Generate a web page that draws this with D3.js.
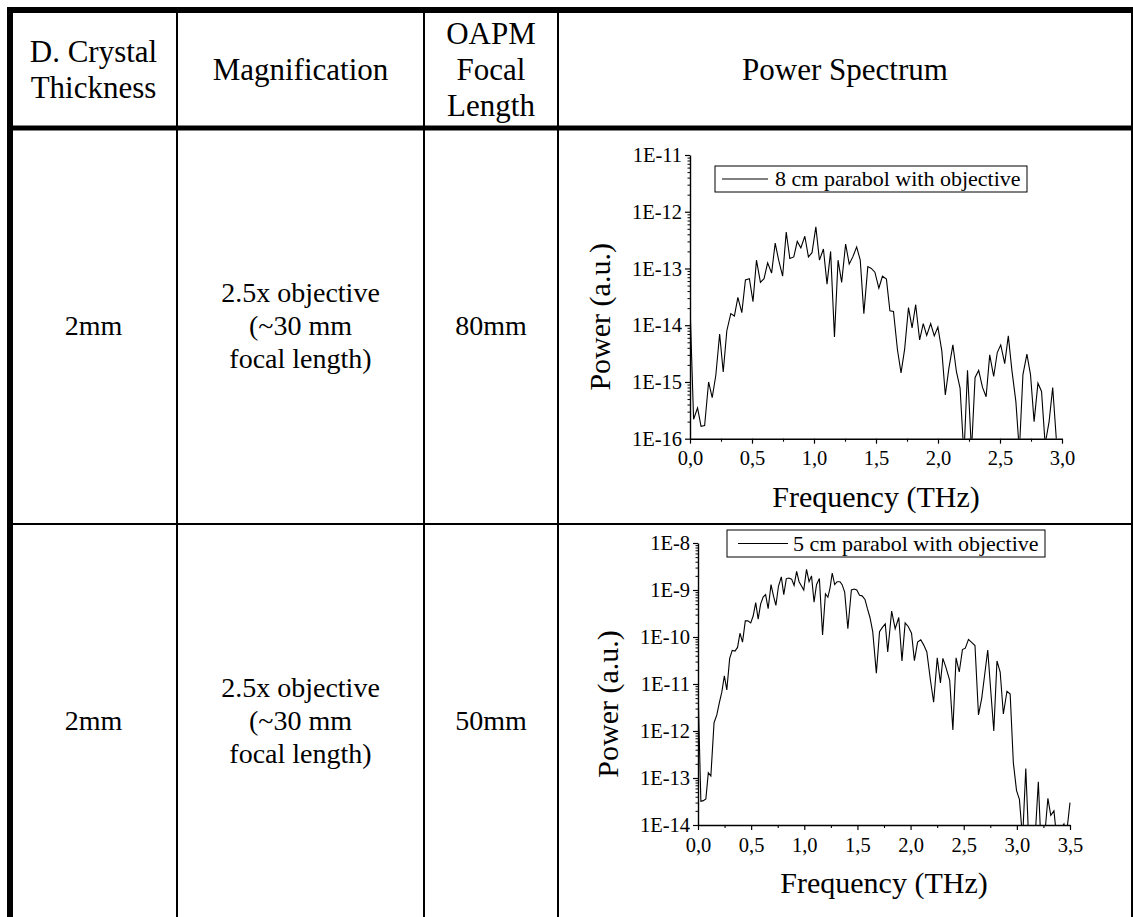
<!DOCTYPE html>
<html>
<head>
<meta charset="utf-8">
<script src="https://cdn.jsdelivr.net/npm/d3@7"></script>
<style>
  html, body { margin: 0; padding: 0; background: #fff; }
  svg { display: block; }
</style>
</head>
<body>
<svg id="sheet" width="1133" height="917"></svg>
<script>
// ---- table text ----
const headerCells = [["D. Crystal", "Thickness"], ["Magnification"], ["OAPM", "Focal", "Length"], ["Power Spectrum"]];
const rowCells = [
  [["2mm"], ["2.5x objective", "(~30 mm", "focal length)"], ["80mm"]],
  [["2mm"], ["2.5x objective", "(~30 mm", "focal length)"], ["50mm"]]
];

// ---- spectrum 1: 8 cm parabol ----
const legend1 = "8 cm parabol with objective";
const freq1 = [0.000,0.029,0.061,0.089,0.118,0.150,0.179,0.208,0.239,0.268,0.297,0.329,0.358,0.386,0.418,0.447,0.479,0.508,0.536,0.568,
  0.597,0.626,0.658,0.687,0.715,0.747,0.776,0.805,0.837,0.865,0.894,0.926,0.955,0.984,1.015,1.044,1.076,1.105,1.134,1.165,
  1.194,1.223,1.255,1.284,1.313,1.344,1.373,1.402,1.434,1.462,1.491,1.523,1.552,1.584,1.612,1.641,1.673,1.702,1.731,1.762,
  1.791,1.820,1.852,1.881,1.909,1.941,1.970,1.999,2.031,2.059,2.088,2.120,2.149,2.178,2.209,2.238,2.270,2.299,2.328,2.359,
  2.388,2.417,2.449,2.478,2.506,2.538,2.567,2.596,2.628,2.656,2.685,2.717,2.746,2.775,2.806,2.835,2.864,2.896,2.925,2.954];
const power1 = [2.3e-14,2.2e-16,3.5e-16,1.65e-16,1.7e-16,1.0e-15,5.3e-16,1.3e-15,7.0e-15,1.5e-15,8.0e-15,1.6e-14,1.45e-14,3.1e-14,1.67e-14,6.3e-14,6.6e-14,2.6e-14,1.4e-13,5.7e-14,
  6.6e-14,1.26e-13,8.3e-14,2.8e-13,1.4e-13,7.3e-14,4.4e-13,1.5e-13,1.6e-13,3.0e-13,2.3e-13,3.7e-13,1.6e-13,1.9e-13,5.4e-13,1.4e-13,2.2e-13,5.3e-14,2.0e-13,6.2e-15,
  1.4e-13,5.7e-14,2.7e-13,1.2e-13,1.6e-13,2.4e-13,1.4e-13,1.6e-14,1.08e-13,1.0e-13,8.6e-14,4.5e-14,7.3e-14,6.5e-14,1.8e-14,1.75e-14,3.7e-15,1.45e-15,3.8e-15,2.05e-14,
  9.0e-15,2.3e-14,5.5e-15,1.07e-14,6.6e-15,1.07e-14,6.5e-15,9.3e-15,3.5e-15,5.9e-16,1.75e-15,4.5e-15,1.5e-15,7.8e-16,5.0e-17,1.6e-15,6.0e-17,1.2e-15,1.6e-15,8.0e-16,
  5.5e-16,3.0e-15,1.25e-15,3.3e-15,4.5e-15,2.1e-15,6.5e-15,1.6e-15,4.5e-16,6.0e-17,1.35e-15,3.1e-15,1.35e-15,2.0e-16,9.5e-16,6.8e-16,8.0e-17,2.0e-16,8.0e-16,1.0e-16];
const xTicks1 = [0, 0.5, 1.0, 1.5, 2.0, 2.5, 3.0];
const yTicks1 = [1e-16, 1e-15, 1e-14, 1e-13, 1e-12, 1e-11];

// ---- spectrum 2: 5 cm parabol ----
const legend2 = "5 cm parabol with objective";
const freq2 = [0.000,0.027,0.050,0.074,0.097,0.121,0.151,0.177,0.201,0.224,0.248,0.271,0.298,0.322,0.348,0.372,0.395,0.419,0.445,0.469,
  0.496,0.519,0.543,0.566,0.589,0.613,0.636,0.660,0.687,0.710,0.733,0.757,0.784,0.807,0.831,0.854,0.881,0.904,0.928,0.951,
  0.975,0.995,1.021,1.045,1.068,1.092,1.115,1.142,1.172,1.199,1.222,1.242,1.263,1.286,1.309,1.336,1.356,1.380,1.410,1.443,
  1.470,1.494,1.520,1.544,1.571,1.594,1.618,1.644,1.678,1.708,1.735,1.762,1.785,1.822,1.855,1.889,1.919,1.949,1.979,2.009,
  2.036,2.066,2.096,2.123,2.153,2.187,2.217,2.251,2.281,2.304,2.334,2.368,2.398,2.428,2.458,2.488,2.515,2.545,2.572,2.606,
  2.639,2.669,2.696,2.726,2.753,2.783,2.813,2.843,2.873,2.907,2.937,2.967,2.997,3.024,3.054,3.084,3.111,3.141,3.171,3.202,
  3.225,3.259,3.292,3.319,3.349,3.376,3.409,3.443,3.466,3.500];
const power2 = [8.5e-12,3.2e-14,3.3e-14,3.6e-14,1.3e-13,1.1e-13,1.5e-12,2.2e-12,4.0e-12,6.7e-12,1.5e-11,7.5e-12,3.5e-11,5.2e-11,5.0e-11,6.0e-11,1.2e-10,7.8e-11,2.2e-10,2.2e-10,
  2.0e-10,2.8e-10,5.4e-10,2.4e-10,5.0e-10,7.1e-10,8.0e-10,4.0e-10,1.3e-9,7.5e-10,4.7e-10,1.2e-9,1.9e-9,8.0e-10,1.75e-9,1.8e-9,1.7e-9,1.25e-9,2.5e-9,1.5e-9,
  1.2e-9,1.0e-9,2.75e-9,1.5e-9,2.0e-9,5.5e-10,1.3e-9,1.75e-9,1.1e-10,8.3e-10,7.0e-10,1.1e-9,2.3e-9,1.3e-9,1.5e-9,1.5e-9,1.3e-9,9.0e-10,1.5e-10,1.0e-9,
  1.05e-9,1.0e-9,7.7e-10,7.5e-10,6.3e-10,4.0e-10,2.6e-10,1.3e-10,1.7e-11,1.3e-10,1.6e-10,1.9e-10,4.8e-11,3.55e-10,1.5e-10,2.6e-10,3.1e-11,2.0e-10,1.65e-10,1.2e-10,
  3.15e-11,7.8e-11,8.7e-11,6.8e-11,4.8e-11,1.2e-11,4.1e-12,3.6e-11,1.05e-11,3.5e-11,2.2e-11,1.2e-11,1.05e-12,3.6e-11,1.8e-11,5.4e-11,5.8e-11,8.9e-11,7.8e-11,6.6e-11,
  2.2e-12,4.9e-12,1.5e-11,5.3e-11,7.9e-12,1.0e-12,3.1e-11,1.8e-11,2.3e-12,7.0e-12,6.1e-12,2.1e-13,5.4e-14,3.5e-14,5.0e-15,1.6e-13,5.0e-15,5.0e-15,5.0e-15,8.3e-14,
  5.0e-15,5.0e-15,3.7e-14,1.6e-14,2.0e-14,5.0e-15,8.0e-15,1.05e-14,6.0e-15,3.0e-14];
const xTicks2 = [0, 0.5, 1.0, 1.5, 2.0, 2.5, 3.0, 3.5];
const yTicks2 = [1e-14, 1e-13, 1e-12, 1e-11, 1e-10, 1e-9, 1e-8];

// ---- layout ----
const FONT = "'Liberation Serif', 'Times New Roman', serif";
const svg = d3.select("#sheet");
const colX = [10, 177, 424, 558, 1132];
const rowY = [10, 128, 524, 917];

// table grid
const grid = svg.append("g").attr("stroke", "#000");
grid.append("line").attr("x1", 7).attr("x2", 1133).attr("y1", rowY[0]).attr("y2", rowY[0]).attr("stroke-width", 6);
grid.append("line").attr("x1", colX[0]).attr("x2", colX[0]).attr("y1", 7).attr("y2", 917).attr("stroke-width", 6);
grid.append("line").attr("x1", 7).attr("x2", 1133).attr("y1", rowY[1]).attr("y2", rowY[1]).attr("stroke-width", 5);
grid.append("line").attr("x1", 7).attr("x2", 1133).attr("y1", rowY[2]).attr("y2", rowY[2]).attr("stroke-width", 2);
colX.slice(1).forEach(x => {
  grid.append("line").attr("x1", x).attr("x2", x).attr("y1", 7).attr("y2", 917).attr("stroke-width", 2);
});

// centred multi-line cell text: lines centred on yc, given size and line pitch
function cellText(lines, x0, x1, yc, size, pitch) {
  const cx = (x0 + x1) / 2;
  const n = lines.length;
  const g = svg.append("g").attr("font-family", FONT).attr("font-size", size).attr("fill", "#000").attr("text-anchor", "middle");
  lines.forEach((t, i) => {
    g.append("text").attr("x", cx).attr("y", yc + (i - (n - 1) / 2) * pitch + 0.33 * size).text(t);
  });
}

headerCells.forEach((lines, c) => cellText(lines, colX[c], colX[c + 1], 69.5, 31, 36));
rowCells.forEach((cells, r) => {
  const yc = (rowY[r + 1] + rowY[r + 2]) / 2;
  cells.forEach((lines, c) => cellText(lines, colX[c], colX[c + 1], yc, 28, 33));
});

// ---- spectrum panels ----
function spectrum(opts) {
  const { freq, power, xTicks, yTicks, legend, box, lg } = opts;
  const x = d3.scaleLinear().domain([xTicks[0], xTicks[xTicks.length - 1]]).range([box.left, box.right]);
  const y = d3.scaleLog().domain([yTicks[0], yTicks[yTicks.length - 1]]).range([box.bottom, box.top]);
  const g = svg.append("g");
  const clipId = "clip" + Math.round(box.left);
  g.append("clipPath").attr("id", clipId).append("rect")
    .attr("x", box.left).attr("y", box.top - 2).attr("width", box.right - box.left + 1).attr("height", box.bottom - box.top + 2);

  const line = d3.line().x((d, i) => x(freq[i])).y(d => y(d));
  g.append("path").datum(power).attr("d", line).attr("fill", "none").attr("stroke", "#000")
    .attr("stroke-width", 1.1).attr("stroke-linejoin", "miter").attr("clip-path", `url(#${clipId})`);

  const fmtX = v => d3.format(".1f")(v).replace(".", ",");
  const fmtY = v => "1E" + Math.round(Math.log10(v));

  // minor ticks
  const xMinor = [];
  for (let i = 0; i < xTicks.length - 1; i++) xMinor.push((xTicks[i] + xTicks[i + 1]) / 2);
  g.append("g").attr("transform", `translate(0,${box.bottom})`)
    .call(d3.axisBottom(x).tickValues(xMinor).tickSize(3).tickFormat(""))
    .call(a => a.select(".domain").remove())
    .call(a => a.selectAll("line").attr("stroke-width", 1.1));
  const yMinor = [];
  const e0 = Math.round(Math.log10(yTicks[0])), e1 = Math.round(Math.log10(yTicks[yTicks.length - 1]));
  for (let e = e0; e < e1; e++) for (let m = 2; m <= 9; m++) yMinor.push(m * Math.pow(10, e));
  g.append("g").attr("transform", `translate(${box.left},0)`)
    .call(d3.axisLeft(y).tickValues(yMinor).tickSize(2.5).tickFormat(""))
    .call(a => a.select(".domain").remove())
    .call(a => a.selectAll("line").attr("stroke-width", 1));

  // major axes
  const ax = g.append("g").attr("transform", `translate(0,${box.bottom})`)
    .call(d3.axisBottom(x).tickValues(xTicks).tickSize(5).tickSizeOuter(0).tickPadding(7).tickFormat(fmtX));
  const ay = g.append("g").attr("transform", `translate(${box.left},0)`)
    .call(d3.axisLeft(y).tickValues(yTicks).tickSize(5).tickSizeOuter(0).tickPadding(3).tickFormat(fmtY));
  [ax, ay].forEach(a => {
    a.select(".domain").attr("stroke-width", 1.4);
    a.selectAll("line").attr("stroke-width", 1.2);
    a.selectAll("text").attr("font-family", FONT).attr("font-size", 20.5).attr("fill", "#000");
  });

  // axis titles
  g.append("text").attr("x", (box.left + box.right) / 2).attr("y", box.bottom + 68)
    .attr("text-anchor", "middle").attr("font-family", FONT).attr("font-size", 30).text("Frequency (THz)");
  const ty = (box.top + box.bottom) / 2 + 20;
  g.append("text").attr("transform", `translate(${box.left - 80},${ty}) rotate(-90)`)
    .attr("text-anchor", "middle").attr("font-family", FONT).attr("font-size", 30).text("Power (a.u.)");

  // legend
  const lgG = g.append("g");
  lgG.append("rect").attr("x", lg.x).attr("y", lg.y).attr("width", lg.w).attr("height", lg.h)
    .attr("fill", "#fff").attr("stroke", "#000").attr("stroke-width", 1);
  lgG.append("line").attr("x1", lg.x + lg.l0).attr("x2", lg.x + lg.l1).attr("y1", lg.y + lg.h / 2).attr("y2", lg.y + lg.h / 2)
    .attr("stroke", "#000").attr("stroke-width", 1);
  lgG.append("text").attr("x", lg.x + lg.t).attr("y", lg.y + lg.h / 2 + 7).attr("font-family", FONT).attr("font-size", 22)
    .text(legend);
}

spectrum({
  freq: freq1, power: power1, xTicks: xTicks1, yTicks: yTicks1, legend: legend1,
  box: { left: 690, right: 1062, top: 155, bottom: 438.7 },
  lg: { x: 715, y: 166, w: 312, h: 26, l0: 7, l1: 53, t: 60 }
});
spectrum({
  freq: freq2, power: power2, xTicks: xTicks2, yTicks: yTicks2, legend: legend2,
  box: { left: 698, right: 1070, top: 543, bottom: 825 },
  lg: { x: 727, y: 530, w: 318, h: 27, l0: 11, l1: 61, t: 66 }
});
</script>
</body>
</html>
